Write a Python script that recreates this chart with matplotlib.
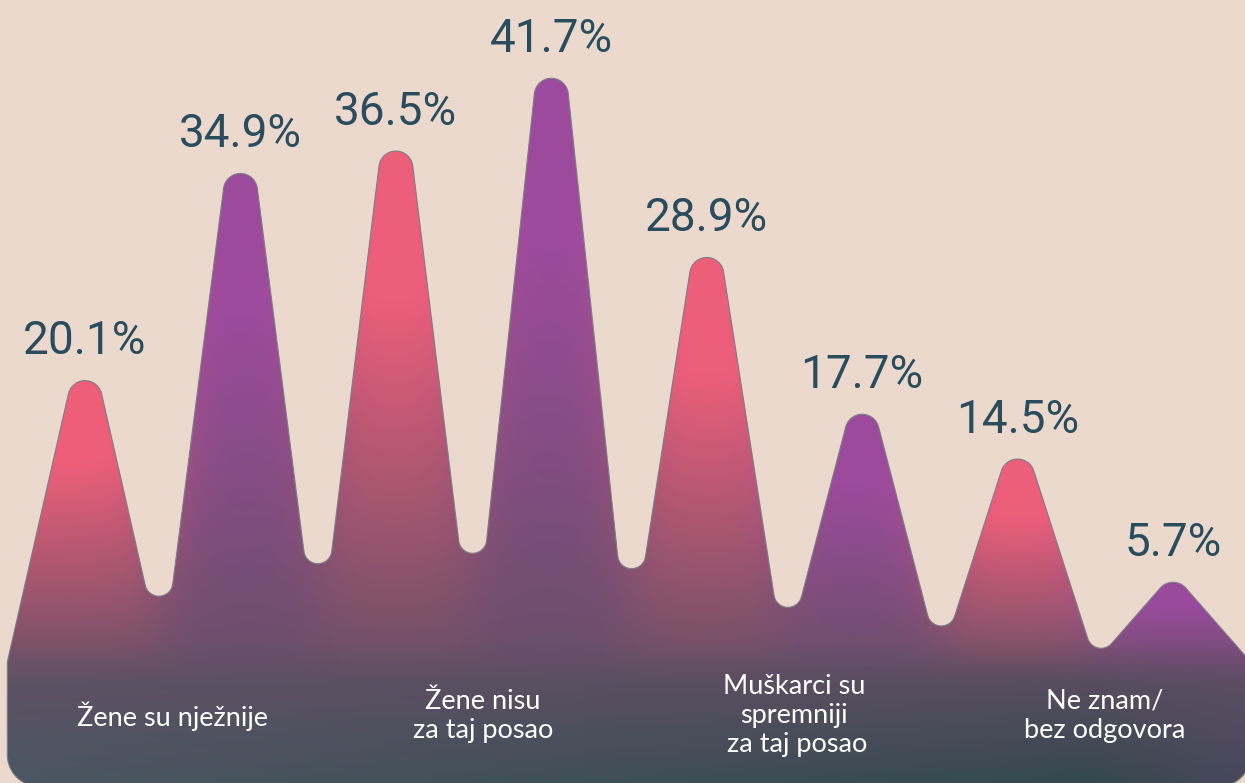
import numpy as np
import matplotlib
matplotlib.use('Agg')
import matplotlib.pyplot as plt
from matplotlib.path import Path
from matplotlib.patches import PathPatch
from matplotlib.colors import to_rgb

# data
categories = ['Žene su nježnije', 'Žene nisu\nza taj posao',
              'Muškarci su\nspremniji\n za taj posao', 'Ne znam/\nbez odgovora']
pink_vals = [20.1, 36.5, 28.9, 14.5]
purple_vals = [34.9, 41.7, 17.7, 5.7]

values = []
for a, b in zip(pink_vals, purple_vals):
    values += [a, b]
x = np.arange(len(values))

BG = '#EAD9CC'
PINK = '#F05F79'
PURPLE = '#9A4A9E'
MID = '#664F66'
TXT = '#2A4C5D'
peak_colors = [PINK, PURPLE] * len(categories)

fig = plt.figure(figsize=(12.45, 7.83), dpi=100)
fig.patch.set_facecolor(BG)
ax = fig.add_axes([0, 0, 1, 1])
ax.set_facecolor(BG)
ax.set_xlim(-0.547, 7.463)
ax.set_ylim(-8.64, 47.29)
ax.axis('off')

trans = ax.transData
sx = trans.transform((1, 0))[0] - trans.transform((0, 0))[0]
sy = trans.transform((0, 1))[1] - trans.transform((0, 0))[1]

R_TOP, R_VAL, R_EDGE, R_CORNER = 17, 14, 8, 32
half_w = 0.5 * sx

# apex height so that the rounded top lands on the value
apex = []
for v in values:
    T = v * sy
    H = T
    for _ in range(60):
        H = T + R_TOP * (np.hypot(half_w, H) / half_w - 1)
    apex.append(H / sy)

ybot = -8.9
verts = [(-0.5, ybot), (-0.5, 0)]
radii = [R_CORNER, R_EDGE]
for i in range(len(values)):
    verts.append((x[i], apex[i]))
    radii.append(R_TOP)
    verts.append((x[i] + 0.5, 0))
    radii.append(R_VAL if i < len(values) - 1 else R_EDGE)
verts.append((x[-1] + 0.5, ybot))
radii.append(R_CORNER)

pix = trans.transform(verts)


def fillet(a, p, b, r, n=24):
    u1 = (a - p) / np.linalg.norm(a - p)
    u2 = (b - p) / np.linalg.norm(b - p)
    th = np.arccos(np.clip(np.dot(u1, u2), -1, 1))
    t = r / np.tan(th / 2)
    t1 = p + u1 * t
    t2 = p + u2 * t
    bis = (u1 + u2) / np.linalg.norm(u1 + u2)
    c = p + bis * (r / np.sin(th / 2))
    a1 = np.arctan2(*(t1 - c)[::-1])
    a2 = np.arctan2(*(t2 - c)[::-1])
    d = (a2 - a1 + np.pi) % (2 * np.pi) - np.pi
    ang = a1 + d * np.linspace(0, 1, n)
    return np.column_stack([c[0] + r * np.cos(ang), c[1] + r * np.sin(ang)])


outline = []
m = len(pix)
for k in range(m):
    outline.append(fillet(pix[k - 1], pix[k], pix[(k + 1) % m], radii[k]))
outline = np.vstack(outline)
outline = np.vstack([outline, outline[:1]])
data_outline = trans.inverted().transform(outline)
codes = [Path.MOVETO] + [Path.LINETO] * (len(data_outline) - 2) + [Path.CLOSEPOLY]
shape = PathPatch(Path(data_outline, codes), facecolor='none',
                  edgecolor='#7E7C88', lw=0.8, zorder=3)
ax.add_patch(shape)

# gradient fill
x0, x1 = ax.get_xlim()
y0, y1 = ax.get_ylim()
X, Y = np.meshgrid(np.linspace(x0, x1, 1245), np.linspace(y0, y1, 783))
W = np.stack([np.exp(-0.5 * ((X - xi) / 0.34) ** 2) for xi in x])
W /= W.sum(axis=0)
mid = np.array(to_rgb(MID))
field = np.zeros(X.shape + (3,))
for i, v in enumerate(values):
    top = 0.72 * v
    s = np.clip((top - Y) / (top + 1.5), 0, 1)[..., None]
    col = np.array(to_rgb(peak_colors[i])) * (1 - s) + mid * s
    field += W[i][..., None] * col

bl = np.array(to_rgb('#4A5762'))
bm = np.array(to_rgb('#35484E'))
br = np.array(to_rgb('#46485A'))
fx = np.clip((X - x0) / (6.5 - x0), 0, 1)[..., None]
gx = np.clip((X - 6.5) / (x1 - 6.5), 0, 1)[..., None]
bottom = np.where(X[..., None] < 6.5, bl * (1 - fx) + bm * fx, bm * (1 - gx) + br * gx)
q = np.clip((1.5 - Y) / (1.5 - y0), 0, 1)[..., None]
img = field * (1 - q) + bottom * q

im = ax.imshow(img, origin='lower', extent=(x0, x1, y0, y1), aspect='auto',
               interpolation='bilinear', zorder=2)
im.set_clip_path(shape)

for xi, v in zip(x, values):
    ax.annotate(f'{v}%', (xi, v), xytext=(0, 19), textcoords='offset points',
                ha='center', va='baseline', fontsize=33, color=TXT,
                family='Roboto', zorder=4)

for k, cat in enumerate(categories):
    ax.text(2 * k + 0.56, -3.85, cat, ha='center', va='center', color='white',
            fontsize=19.5, linespacing=1.2, family='Lato', zorder=4)

fig.savefig('out.png', dpi=100, facecolor=BG)
